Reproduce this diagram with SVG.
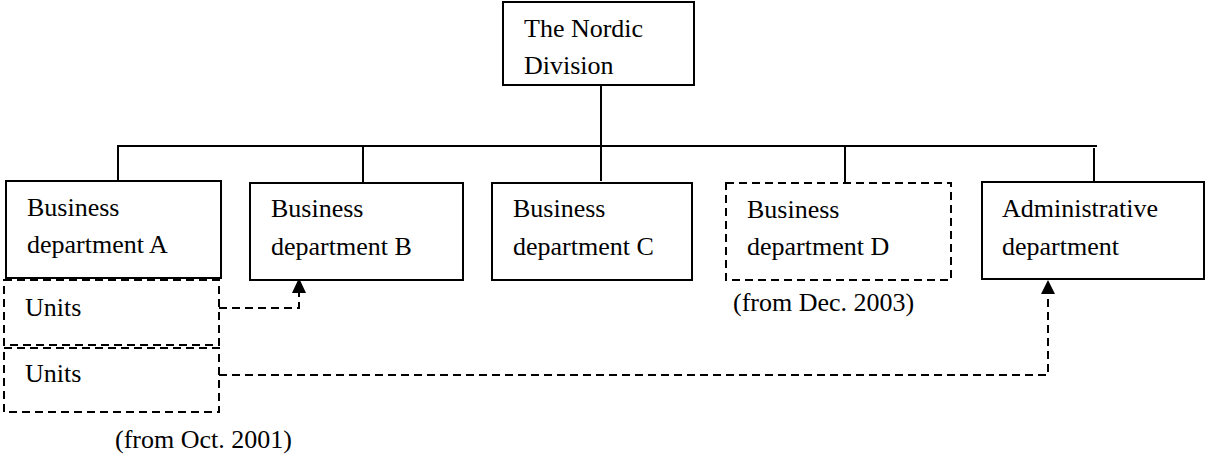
<svg xmlns="http://www.w3.org/2000/svg" width="1206" height="455" viewBox="0 0 1206 455">
  <defs>
    <style>
      .box { fill: #ffffff; stroke: #000000; stroke-width: 2; }
      .dbox { fill: none; stroke: #000000; stroke-width: 2; stroke-dasharray: 8 5; }
      .line { fill: none; stroke: #000000; stroke-width: 2; }
      .dline { fill: none; stroke: #000000; stroke-width: 2; stroke-dasharray: 8 5; }
      text { font-family: "Liberation Serif", "Times New Roman", serif; font-size: 26px; fill: #000000; }
    </style>
    <marker id="arrow" viewBox="0 0 14 15" refX="7" refY="0" markerWidth="14" markerHeight="15" markerUnits="userSpaceOnUse" orient="auto-start-reverse">
      <path d="M0,15 L7,0 L14,15 Z" fill="#000000"/>
    </marker>
  </defs>

  <!-- tree connectors -->
  <g id="connectors">
    <line class="line" x1="601" y1="85" x2="601" y2="181"/>
    <line class="line" x1="117" y1="146" x2="1097" y2="146"/>
    <line class="line" x1="118" y1="146" x2="118" y2="181"/>
    <line class="line" x1="363" y1="147" x2="363" y2="183"/>
    <line class="line" x1="845" y1="147" x2="845" y2="183"/>
    <line class="line" x1="1094" y1="148" x2="1094" y2="182"/>
    <!-- units reassigned -->
    <path class="dline" d="M219,308 L299,308 L299,293"/>
    <path d="M292,293 L299,278 L306,293 Z" fill="#000000"/>
    <path class="dline" d="M219,375 L1048,375 L1048,294"/>
    <path d="M1041,294 L1048,280 L1055,294 Z" fill="#000000"/>
  </g>

  <g id="nordic-division">
    <rect class="box" x="503" y="2" width="191" height="83"/>
    <text x="524" y="37">The Nordic</text>
    <text x="524" y="74">Division</text>
  </g>

  <g id="business-a">
    <rect class="box" x="6" y="181" width="215" height="97"/>
    <text x="27" y="216">Business</text>
    <text x="27" y="253">department A</text>
  </g>

  <g id="units-1">
    <rect class="dbox" x="4" y="280" width="215" height="65"/>
    <text x="25" y="316">Units</text>
  </g>

  <g id="units-2">
    <rect class="dbox" x="4" y="348" width="215" height="64"/>
    <text x="25" y="382">Units</text>
    <text x="115" y="448">(from Oct. 2001)</text>
  </g>

  <g id="business-b">
    <rect class="box" x="250" y="183" width="213" height="97"/>
    <text x="271" y="217">Business</text>
    <text x="271" y="255">department B</text>
  </g>

  <g id="business-c">
    <rect class="box" x="492" y="183" width="200" height="97"/>
    <text x="513" y="217">Business</text>
    <text x="513" y="255">department C</text>
  </g>

  <g id="business-d">
    <rect class="dbox" x="726" y="183" width="225" height="97"/>
    <text x="747" y="218">Business</text>
    <text x="747" y="255">department D</text>
    <text x="733" y="311">(from Dec. 2003)</text>
  </g>

  <g id="administrative">
    <rect class="box" x="982" y="182" width="222" height="97"/>
    <text x="1002" y="217">Administrative</text>
    <text x="1002" y="255">department</text>
  </g>
</svg>
